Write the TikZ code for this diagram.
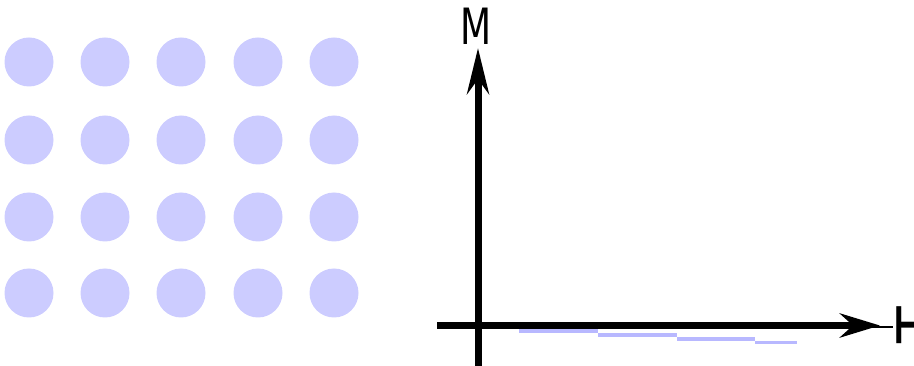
\documentclass[tikz,border=0pt]{standalone}
\usepackage{fontspec}
\setsansfont{DejaVu Sans}
\usetikzlibrary{arrows.meta}
\definecolor{dotc}{HTML}{CCCCFF}
\definecolor{stepc}{HTML}{B8B8FF}
\tikzset{
  dot/.style={fill=dotc, draw=none, circle, minimum size=49pt, inner sep=0pt},
  axis/.style={line width=7pt, black},
  stepline/.style={line width=3.5pt, stepc},
  lbl/.style={font=\sffamily\fontsize{50}{50}\selectfont, inner sep=0pt}
}
\begin{document}
\begin{tikzpicture}[x=1pt,y=-1pt]
\useasboundingbox (0,0) rectangle (914,366);
% grid of dots
\foreach \cx [count=\i] in {29,105,181,258,334}{
  \foreach \cy [count=\j] in {62,140,217,293}{
    \node[dot] (d\i\j) at (\cx,\cy) {};
  }
}
% axes
\coordinate (yb) at (478,366);
\coordinate (yt) at (478,48);
\coordinate (xl) at (437,325.5);
\coordinate (xr) at (880,325.5);
\draw[axis, -{Stealth[length=46pt,width=22pt]}] (yb) -- (yt);
\draw[axis, -{Stealth[length=40pt,width=24pt]}] (xl) -- (xr);
\coordinate (xe1) at (870,327);
\coordinate (xe2) at (893,327);
\draw[line width=2.5pt] (xe1) -- (xe2);
% labels
\node[lbl] (M) at (476,26) {\scalebox{0.72}[1]{M}};
\node[font=\sffamily\fontsize{60}{60}\selectfont, inner sep=0pt, rotate=90, anchor=north] (T) at (897,325) {T};
% steps
\coordinate (s0) at (519,331);
\coordinate (s1) at (598,331);
\coordinate (s2) at (598,335);
\coordinate (s3) at (677,335);
\coordinate (s4) at (677,339);
\coordinate (s5) at (755,339);
\coordinate (s6) at (755,342.5);
\coordinate (s7) at (797,342.5);
\draw[stepline] (s0) -- (s1);
\draw[stepline] (s2) -- (s3);
\draw[stepline] (s4) -- (s5);
\draw[stepline] (s6) -- (s7);
\end{tikzpicture}
\end{document}
